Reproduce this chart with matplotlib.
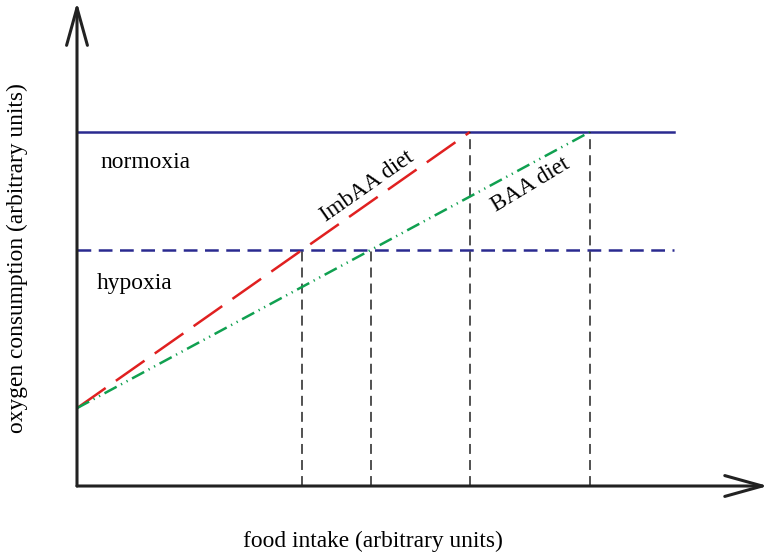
import matplotlib.pyplot as plt

plt.rcParams['font.family'] = ['Liberation Serif', 'DejaVu Serif']

# levels of oxygen consumption (arbitrary units)
normoxia = 15.0
hypoxia = 10.0
baseline = 3.3                      # oxygen consumption at zero intake

# food intake where each diet line reaches the normoxia level
diets = ['ImbAA diet', 'BAA diet']
diet_reach = [10.0, 13.05]
diet_colors = ['#e02020', '#10a050']

x_end = 15.2                        # end of the horizontal levels
x_axis_end = 17.58
y_axis_end = 20.5

fig = plt.figure(figsize=(7.68, 5.58), dpi=100)
ax = fig.add_axes([0, 0, 1, 1])
ax.set_xlim(-1.959, 17.58)
ax.set_ylim(-3.05, 20.59)
ax.axis('off')

# axes with open arrow heads
arrow = dict(arrowstyle='->,head_length=2.7,head_width=0.75', lw=2.2,
             color='#222222', shrinkA=0, shrinkB=0)
ax.annotate('', xy=(x_axis_end, 0), xytext=(0, 0), arrowprops=arrow)
ax.annotate('', xy=(0, y_axis_end), xytext=(0, 0), arrowprops=arrow)

# oxygen levels
ax.plot([0, x_end], [normoxia, normoxia], color='#2a2a90', lw=1.8)
ax.plot([0, x_end], [hypoxia, hypoxia], color='#2a2a90', lw=1.8,
        dashes=(5.5, 3))

dash_styles = [(14, 5), (5.5, 2, 0.5, 2, 0.5, 2)]
for name, reach, col, ds in zip(diets, diet_reach, diet_colors, dash_styles):
    ax.plot([0, reach], [baseline, normoxia], color=col, lw=1.8, dashes=ds)
    slope = (normoxia - baseline) / reach
    x_hyp = (hypoxia - baseline) / slope
    for xv, top in [(x_hyp, hypoxia), (reach, normoxia)]:
        ax.plot([xv, xv], [0, top], color='#222222', lw=1.1, dashes=(6.5, 4))

# labels
fs = 16.8
ax.text(0.585, 13.69, 'normoxia', fontsize=fs, ha='left', va='center')
ax.text(0.51, 8.6, 'hypoxia', fontsize=fs, ha='left', va='center')
ax.text(7.38, 12.71, diets[0], fontsize=16.5, rotation=35,
        ha='center', va='center', rotation_mode='anchor')
ax.text(11.55, 12.75, diets[1], fontsize=16.5, rotation=31,
        ha='center', va='center', rotation_mode='anchor')

ax.text(7.52, -2.33, 'food intake (arbitrary units)', fontsize=fs,
        ha='center', va='center')
ax.text(-1.527, 9.64, 'oxygen consumption (arbitrary units)', fontsize=fs,
        rotation=90, ha='center', va='center')

fig.savefig('out.png', dpi=100)
